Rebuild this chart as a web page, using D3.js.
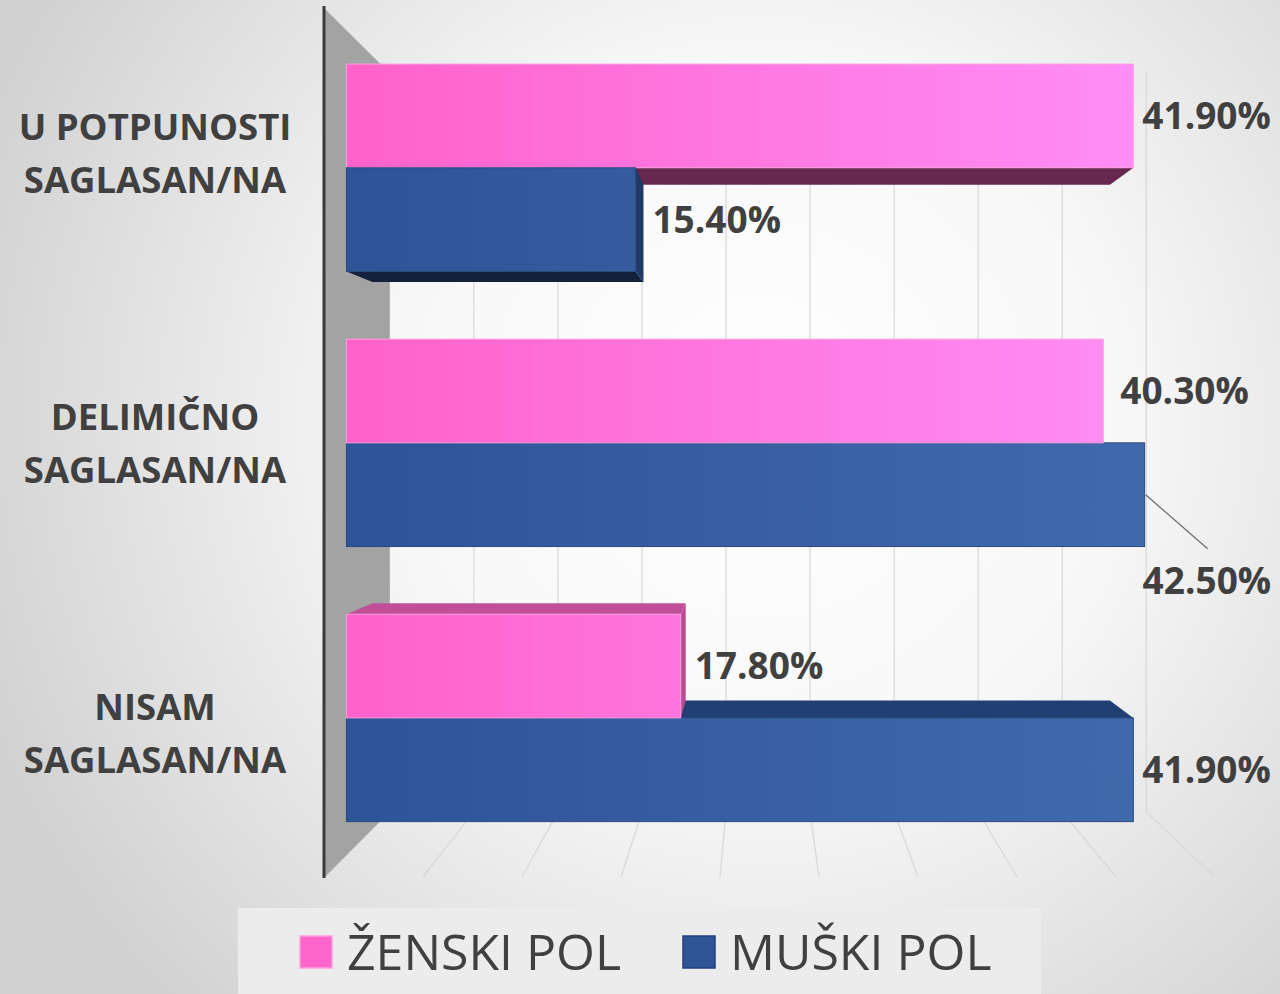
<!DOCTYPE html>
<html>
<head>
<meta charset="utf-8">
<script src="https://cdn.jsdelivr.net/npm/d3@7"></script>
<style>
	body { margin: 0; background: #fff; }
	svg { display: block; }
</style>
</head>
<body>
<svg id="chart"></svg>
<script>
const width = 1280
const height = 994

// data
const categories = ["U POTPUNOSTI SAGLASAN/NA", "DELIMIČNO SAGLASAN/NA", "NISAM SAGLASAN/NA"]
const categoryLines = [["U POTPUNOSTI", "SAGLASAN/NA"], ["DELIMIČNO", "SAGLASAN/NA"], ["NISAM", "SAGLASAN/NA"]]
const seriesNames = ["ŽENSKI POL", "MUŠKI POL"]
const zenskiPol = [41.9, 40.3, 17.8]
const muskiPol = [15.4, 42.5, 41.9]
const xTicks = [0, 5, 10, 15, 20, 25, 30, 35, 40, 45]

// perspective set-up: front plane coordinates, pushed back towards the eye point
const eye = { x: 760, y: 440 }
const wallDepth = 0.151
const barFront = 0.0515
const barBack = 0.111
const plotTop = 8
const plotBottom = 878

function project(x, y, d) {
	return [x + d * (eye.x - x), y + d * (eye.y - y)]
}

const x = d3.scaleLinear().domain([0, 45]).range([324, 1215])
const y = d3.scaleBand()
	.domain(categories)
	.range([plotTop, plotBottom])
	.paddingInner(0.246)
	.paddingOuter(0.123)
const ySeries = d3.scaleBand().domain(seriesNames).range([0, y.bandwidth()])

const svg = d3.select("#chart")
	.attr("width", width)
	.attr("height", height)

const defs = svg.append("defs")

const bg = defs.append("radialGradient")
	.attr("id", "bg")
	.attr("gradientUnits", "userSpaceOnUse")
	.attr("cx", 760).attr("cy", 420).attr("r", 820)
bg.append("stop").attr("offset", 0).attr("stop-color", "#ffffff")
bg.append("stop").attr("offset", 0.45).attr("stop-color", "#f7f7f7")
bg.append("stop").attr("offset", 1).attr("stop-color", "#d2d2d2")

function barGradient(id, c0, c1) {
	const g = defs.append("linearGradient")
		.attr("id", id)
		.attr("gradientUnits", "userSpaceOnUse")
		.attr("x1", 347).attr("y1", 0).attr("x2", 1150).attr("y2", 0)
	g.append("stop").attr("offset", 0).attr("stop-color", c0)
	g.append("stop").attr("offset", 1).attr("stop-color", c1)
}
barGradient("pinkFace", "#ff62ca", "#ff8ef8")
barGradient("blueFace", "#2d5496", "#416aae")

const seriesStyle = [
	{ face: "url(#pinkFace)", stroke: "#ff9ee0", top: "#c04f98", bottom: "#66284f", right: "#b84b92", values: zenskiPol },
	{ face: "url(#blueFace)", stroke: "#2a4a80", top: "#213f72", bottom: "#13213c", right: "#1f3864", values: muskiPol }
]

svg.append("rect")
	.attr("width", width)
	.attr("height", height)
	.attr("fill", "url(#bg)")

const line = d3.line()

// side wall
const x0 = x(0)
svg.append("path")
	.attr("d", line([project(x0, plotTop, 0), project(x0, plotTop, wallDepth), project(x0, plotBottom, wallDepth), project(x0, plotBottom, 0)]) + "Z")
	.attr("fill", "#a3a3a3")

// back wall gridlines
svg.append("g")
	.selectAll("path")
	.data(xTicks.slice(1))
	.join("path")
	.attr("d", t => line([project(x(t), plotTop, wallDepth), project(x(t), plotBottom, wallDepth)]))
	.attr("stroke", "#d9d9d9")
	.attr("stroke-width", 1.3)
	.attr("fill", "none")

// floor gridlines
svg.append("g")
	.selectAll("path")
	.data(xTicks.slice(1))
	.join("path")
	.attr("d", t => line([project(x(t), plotBottom, wallDepth), project(x(t), plotBottom - 1, 0)]))
	.attr("stroke", "#d9d9d9")
	.attr("stroke-width", 1.3)
	.attr("fill", "none")

svg.append("line")
	.attr("x1", x0).attr("x2", x0)
	.attr("y1", plotTop - 2).attr("y2", plotBottom)
	.attr("stroke", "#3a3a3a")
	.attr("stroke-width", 3)

// bars as boxes
const bars = []
categories.forEach((c, i) => {
	seriesNames.forEach((s, j) => {
		const top = y(c) + ySeries(s)
		const bottom = top + ySeries.bandwidth()
		bars.push({ cat: i, series: j, value: seriesStyle[j].values[i], top, bottom })
	})
})
// draw the bars farthest from the eye line first
bars.sort((a, b) => Math.abs(b.top + b.bottom - 2 * eye.y) - Math.abs(a.top + a.bottom - 2 * eye.y))

const barLayer = svg.append("g")
bars.forEach(b => {
	const st = seriesStyle[b.series]
	const left = x(0)
	const right = x(b.value)
	const f = (px, py) => project(px, py, barFront)
	const k = (px, py) => project(px, py, barBack)
	const g = barLayer.append("g")
	if (b.top > eye.y) {
		g.append("path")
			.attr("d", line([f(left, b.top), f(right, b.top), k(right, b.top), k(left, b.top)]) + "Z")
			.attr("fill", st.top)
	}
	if (b.bottom < eye.y) {
		g.append("path")
			.attr("d", line([f(left, b.bottom), f(right, b.bottom), k(right, b.bottom), k(left, b.bottom)]) + "Z")
			.attr("fill", st.bottom)
	}
	if (right < eye.x) {
		g.append("path")
			.attr("d", line([f(right, b.top), k(right, b.top), k(right, b.bottom), f(right, b.bottom)]) + "Z")
			.attr("fill", st.right)
	}
	const p0 = f(left, b.top)
	const p1 = f(right, b.bottom)
	g.append("rect")
		.attr("x", p0[0])
		.attr("y", p0[1])
		.attr("width", p1[0] - p0[0])
		.attr("height", p1[1] - p0[1])
		.attr("fill", st.face)
		.attr("stroke", st.stroke)
		.attr("stroke-width", 1)
})

// data labels
const labelFont = "'Open Sans', 'DejaVu Sans', sans-serif"
const labels = svg.append("g")
bars.forEach(b => {
	const right = x(b.value)
	const a = project(right, b.top, barFront)
	const bk = project(right, b.top, barBack)
	const mid = project(right, (b.top + b.bottom) / 2, barFront)
	let lx = Math.max(a[0], bk[0]) + 9
	let ly = mid[1]
	// Excel pushed this one label below its bar with a leader line
	if (b.cat === 1 && b.series === 1) {
		labels.append("line")
			.attr("x1", mid[0] + 1).attr("y1", mid[1])
			.attr("x2", mid[0] + 63).attr("y2", mid[1] + 54)
			.attr("stroke", "#6b6b6b")
			.attr("stroke-width", 1.2)
		lx = mid[0] - 2
		ly = mid[1] + 86
	}
	if (b.cat === 1 && b.series === 0) lx += 8
	labels.append("text")
		.attr("x", lx)
		.attr("y", ly)
		.attr("dy", "0.36em")
		.attr("font-family", labelFont)
		.attr("font-weight", 700)
		.attr("font-size", 37)
		.attr("fill", "#404040")
		.text(b.value.toFixed(2) + "%")
})

// category labels
svg.append("g")
	.selectAll("text")
	.data(categories)
	.join("text")
	.attr("x", 155)
	.attr("y", c => y(c) + y.bandwidth() / 2)
	.attr("text-anchor", "middle")
	.attr("font-family", labelFont)
	.attr("font-weight", 700)
	.attr("font-size", 36.5)
	.attr("fill", "#404040")
	.selectAll("tspan")
	.data((c, i) => categoryLines[i].map((t, n) => ({ t, n })))
	.join("tspan")
	.attr("x", 155)
	.attr("dy", d => d.n === 0 ? "-0.36em" : "1.45em")
	.text(d => d.t)

// legend
const legend = svg.append("g")
legend.append("rect")
	.attr("x", 238).attr("y", 908)
	.attr("width", 803).attr("height", 90)
	.attr("fill", "#ececec")
const legendX = [300, 683]
seriesNames.forEach((s, j) => {
	legend.append("rect")
		.attr("x", legendX[j]).attr("y", 936)
		.attr("width", 32).attr("height", 32)
		.attr("fill", j === 0 ? "#ff66cc" : "#2f5597")
		.attr("stroke", j === 0 ? "#ff9ee0" : "#22407a")
		.attr("stroke-width", 1.5)
	legend.append("text")
		.attr("x", legendX[j] + 47)
		.attr("y", 970)
		.attr("font-family", labelFont)
		.attr("font-size", 50)
		.attr("fill", "#404040")
		.text(s)
})
</script>
</body>
</html>
